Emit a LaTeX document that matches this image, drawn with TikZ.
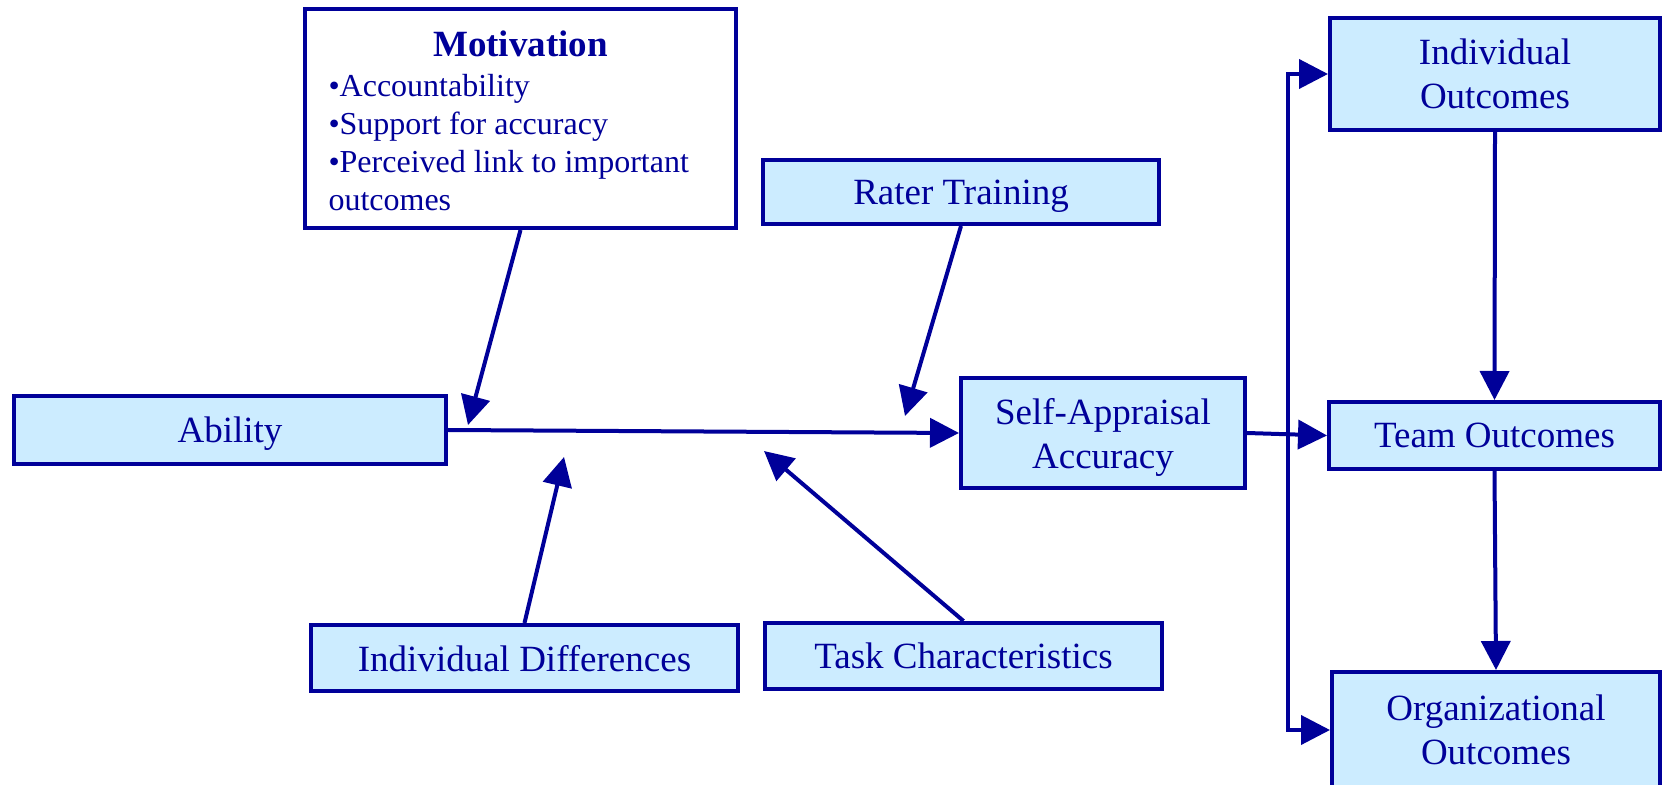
\documentclass[tikz,border=0pt]{standalone}
\usepackage{fontspec}
\setmainfont{Liberation Serif}
\usetikzlibrary{arrows.meta}
\definecolor{boxblue}{RGB}{0,0,153}
\definecolor{boxfill}{RGB}{204,236,255}
\tikzset{
  framed/.style={draw=boxblue, line width=2pt, text=boxblue, inner sep=0pt},
  factor/.style={framed, fill=boxfill, align=center, text depth=0pt,
    font=\fontsize{18.5pt}{22pt}\selectfont},
  link/.style={draw=boxblue, line width=2pt, -{Triangle[length=14.5pt,width=14.5pt]}},
}
\begin{document}
\begin{tikzpicture}[x=0.5pt,y=-0.5pt]
\useasboundingbox (0,0) rectangle (1664,785);
\node[framed, fill=white, minimum width=215.5pt, minimum height=109.5pt,
  text width=192pt, inner xsep=11.5pt, align=flush left,
  text height=13pt, text depth=74.5pt,
  font=\fontsize{16pt}{19pt}\selectfont] (motiv) at (520.5,118.5)
  {{\centering\fontsize{18.5pt}{22pt}\selectfont\bfseries Motivation\par}\vspace{1pt}
   \textbullet Accountability\\
   \textbullet Support for accuracy\\
   \textbullet Perceived link to important\\
   outcomes\par};
\node[factor, minimum width=198pt, minimum height=32pt] (rater) at (961,192) {Rater Training};
\node[factor, minimum width=216pt, minimum height=34pt] (ability) at (230,430) {Ability};
\node[factor, minimum width=142pt, minimum height=55pt] (selfapp) at (1103,433) {Self-Appraisal\\Accuracy};
\node[factor, minimum width=213.5pt, minimum height=33pt] (inddiff) at (524.5,658) {Individual Differences};
\node[factor, minimum width=198.5pt, minimum height=33pt] (taskch) at (963.5,656) {Task Characteristics};
\node[factor, minimum width=165pt, minimum height=56pt] (indout) at (1495,74) {Individual\\Outcomes};
\node[factor, minimum width=165.5pt, minimum height=33.5pt] (teamout) at (1494.5,435.5) {Team Outcomes};
\node[factor, minimum width=164pt, minimum height=58pt] (orgout) at (1496,730) {Organizational\\Outcomes};
\coordinate (motivtip) at (468,425);
\coordinate (ratertip) at (905,416);
\coordinate (difftip) at (564,457);
\coordinate (tasktip) at (764,451);
\draw[link] (ability.east) -- (selfapp.west);
\draw[link] (motiv.south) -- (motivtip);
\draw[link] (rater.south) -- (ratertip);
\draw[link] (inddiff.north) -- (difftip);
\draw[link] (taskch.north) -- (tasktip);
\draw[link] (selfapp.east) -- (teamout.west);
\draw[link, {Triangle[length=14.5pt,width=14.5pt]}-{Triangle[length=14.5pt,width=14.5pt]}]
  (indout.west) -- ++(-40,0) |- (orgout.west);
\draw[link] (indout.south) -- (teamout.north);
\draw[link] (teamout.south) -- (orgout.north);
\end{tikzpicture}
\end{document}
